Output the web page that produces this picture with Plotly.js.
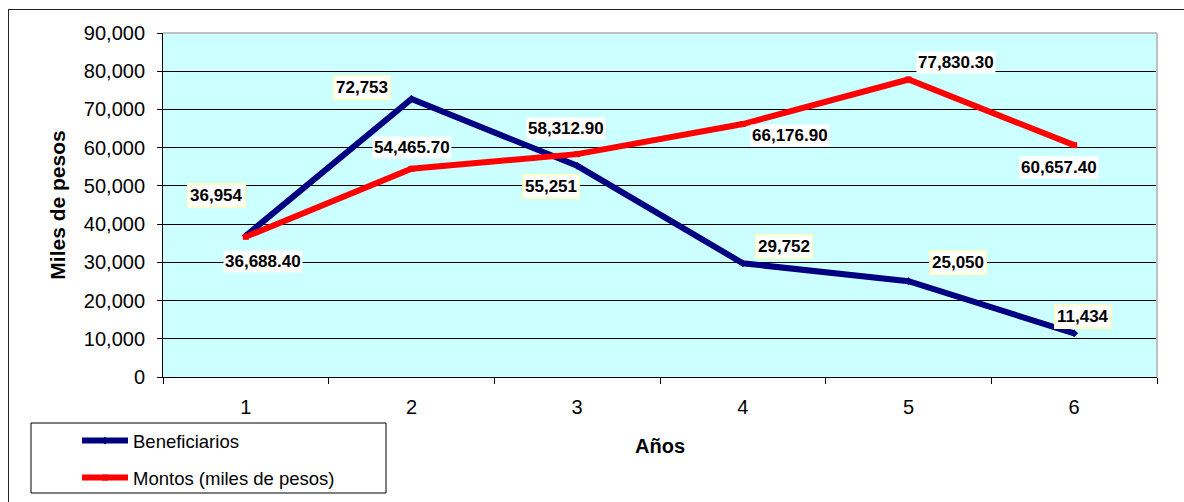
<!DOCTYPE html>
<html>
<head>
<meta charset="utf-8">
<script src="https://cdn.plot.ly/plotly-3.0.1.min.js"></script>
<style>
  html, body { margin: 0; padding: 0; background: #fff; overflow: hidden; }
  #wrap { position: relative; width: 1184px; height: 502px; }
  #chart { position: absolute; left: 0; top: 0; width: 1184px; height: 502px; }
  #frame { position: absolute; left: 8px; top: 9px; width: 3000px; height: 3000px;
           border-left: 1.5px solid #222; border-top: 1.5px solid #222; pointer-events: none; }
</style>
</head>
<body>
<div id="wrap"><div id="chart"></div><div id="frame"></div></div>
<script>
// ---- data ----
const years = ['1', '2', '3', '4', '5', '6'];
const beneficiarios = [36954, 72753, 55251, 29752, 25050, 11434];
const montos = [36688.40, 54465.70, 58312.90, 66176.90, 77830.30, 60657.40];
const benefLabels = ['36,954', '72,753', '55,251', '29,752', '25,050', '11,434'];
const montosLabels = ['36,688.40', '54,465.70', '58,312.90', '66,176.90', '77,830.30', '60,657.40'];

// ---- label offsets (pixels; x right, y up) ----
const benefShift = [[-29, 40], [-50, 11], [-26, -21], [41, 17], [49, 19], [9, 17]];
const montosShift = [[17, -25], [0, 21], [-11, 26], [47, -11], [47, 17], [-15, -22]];

const FONT = 'Arial, "Liberation Sans", sans-serif';
const NAVY = '#000080';
const RED = '#FF0000';

const traces = [
  {
    x: years, y: beneficiarios, name: 'Beneficiarios', type: 'scatter', mode: 'lines+markers',
    line: { color: NAVY, width: 6 }, marker: { symbol: 'diamond', size: 6, color: NAVY },
    legendgroup: 'a'
  },
  {
    x: years, y: montos, name: 'Montos (miles de pesos)', type: 'scatter', mode: 'lines+markers',
    line: { color: RED, width: 6 }, marker: { symbol: 'square', size: 6, color: RED },
    legendgroup: 'b'
  }
];

// annotations: x is the category index on the category axis
const annotations = [];
years.forEach((yr, i) => {
  annotations.push({
    x: i, y: beneficiarios[i], text: '<b>' + benefLabels[i] + '</b>', showarrow: false,
    xshift: benefShift[i][0], yshift: benefShift[i][1],
    font: { family: FONT, size: 17, color: '#000' },
    bgcolor: '#ffffff', bordercolor: '#ffffcc', borderwidth: 2, borderpad: 1
  });
  annotations.push({
    x: i, y: montos[i], text: '<b>' + montosLabels[i] + '</b>', showarrow: false,
    xshift: montosShift[i][0], yshift: montosShift[i][1],
    font: { family: FONT, size: 17, color: '#000' },
    bgcolor: '#ffffff', borderpad: 1
  });
});

const L = 163, R = 27, T = 33, B = 125, W = 1184, H = 502;
const pw = W - L - R, ph = H - T - B;
const px = v => (v - L) / pw;
const py = v => (H - B - v) / ph;

const layout = {
  width: W, height: H,
  margin: { l: L, r: R, t: T, b: B, pad: 0, autoexpand: false },
  paper_bgcolor: 'rgba(0,0,0,0)',
  plot_bgcolor: '#CCFFFF',
  font: { family: FONT, size: 20, color: '#000' },
  showlegend: true,
  legend: {
    x: px(77), y: py(422), xanchor: 'left', yanchor: 'top',
    bgcolor: 'rgba(0,0,0,0)', borderwidth: 0,
    font: { family: FONT, size: 18.5, color: '#000' },
    itemwidth: 46, traceorder: 'grouped', tracegroupgap: 10
  },
  xaxis: {
    type: 'category', range: [-0.5, 5.5], autorange: false,
    tickson: 'boundaries', ticks: 'outside', ticklen: 6, tickcolor: '#000',
    showline: true, linecolor: '#000', linewidth: 1, showgrid: false, zeroline: false,
    tickfont: { family: FONT, size: 20 }, ticklabelstandoff: 12,
    title: { text: '<b>Años</b>', font: { family: FONT, size: 20 }, standoff: 21 },
    automargin: false, fixedrange: true
  },
  yaxis: {
    range: [0, 90000], autorange: false, dtick: 10000, tick0: 0, tickformat: ',d',
    ticks: 'outside', ticklen: 5, tickcolor: '#000',
    showline: true, linecolor: '#000', linewidth: 1,
    showgrid: true, gridcolor: '#000', gridwidth: 1, zeroline: false,
    tickfont: { family: FONT, size: 20 }, ticklabelstandoff: 8,
    title: { text: '<b>Miles de pesos</b>', font: { family: FONT, size: 21 }, standoff: 12 },
    automargin: false, fixedrange: true
  },
  shapes: [
    { type: 'line', xref: 'paper', yref: 'paper', x0: 0, x1: 1, y0: 1, y1: 1,
      line: { color: '#c0c0c0', width: 2 } },
    { type: 'line', xref: 'paper', yref: 'paper', x0: 1, x1: 1, y0: 0, y1: 1,
      line: { color: '#c0c0c0', width: 2 } },
    { type: 'rect', xref: 'paper', yref: 'paper', x0: px(31), x1: px(386), y0: py(423), y1: py(493),
      line: { color: '#000', width: 1 }, fillcolor: 'rgba(0,0,0,0)' }
  ],
  annotations: annotations
};

Plotly.newPlot('chart', traces, layout, { displayModeBar: false, staticPlot: true });
</script>
</body>
</html>
